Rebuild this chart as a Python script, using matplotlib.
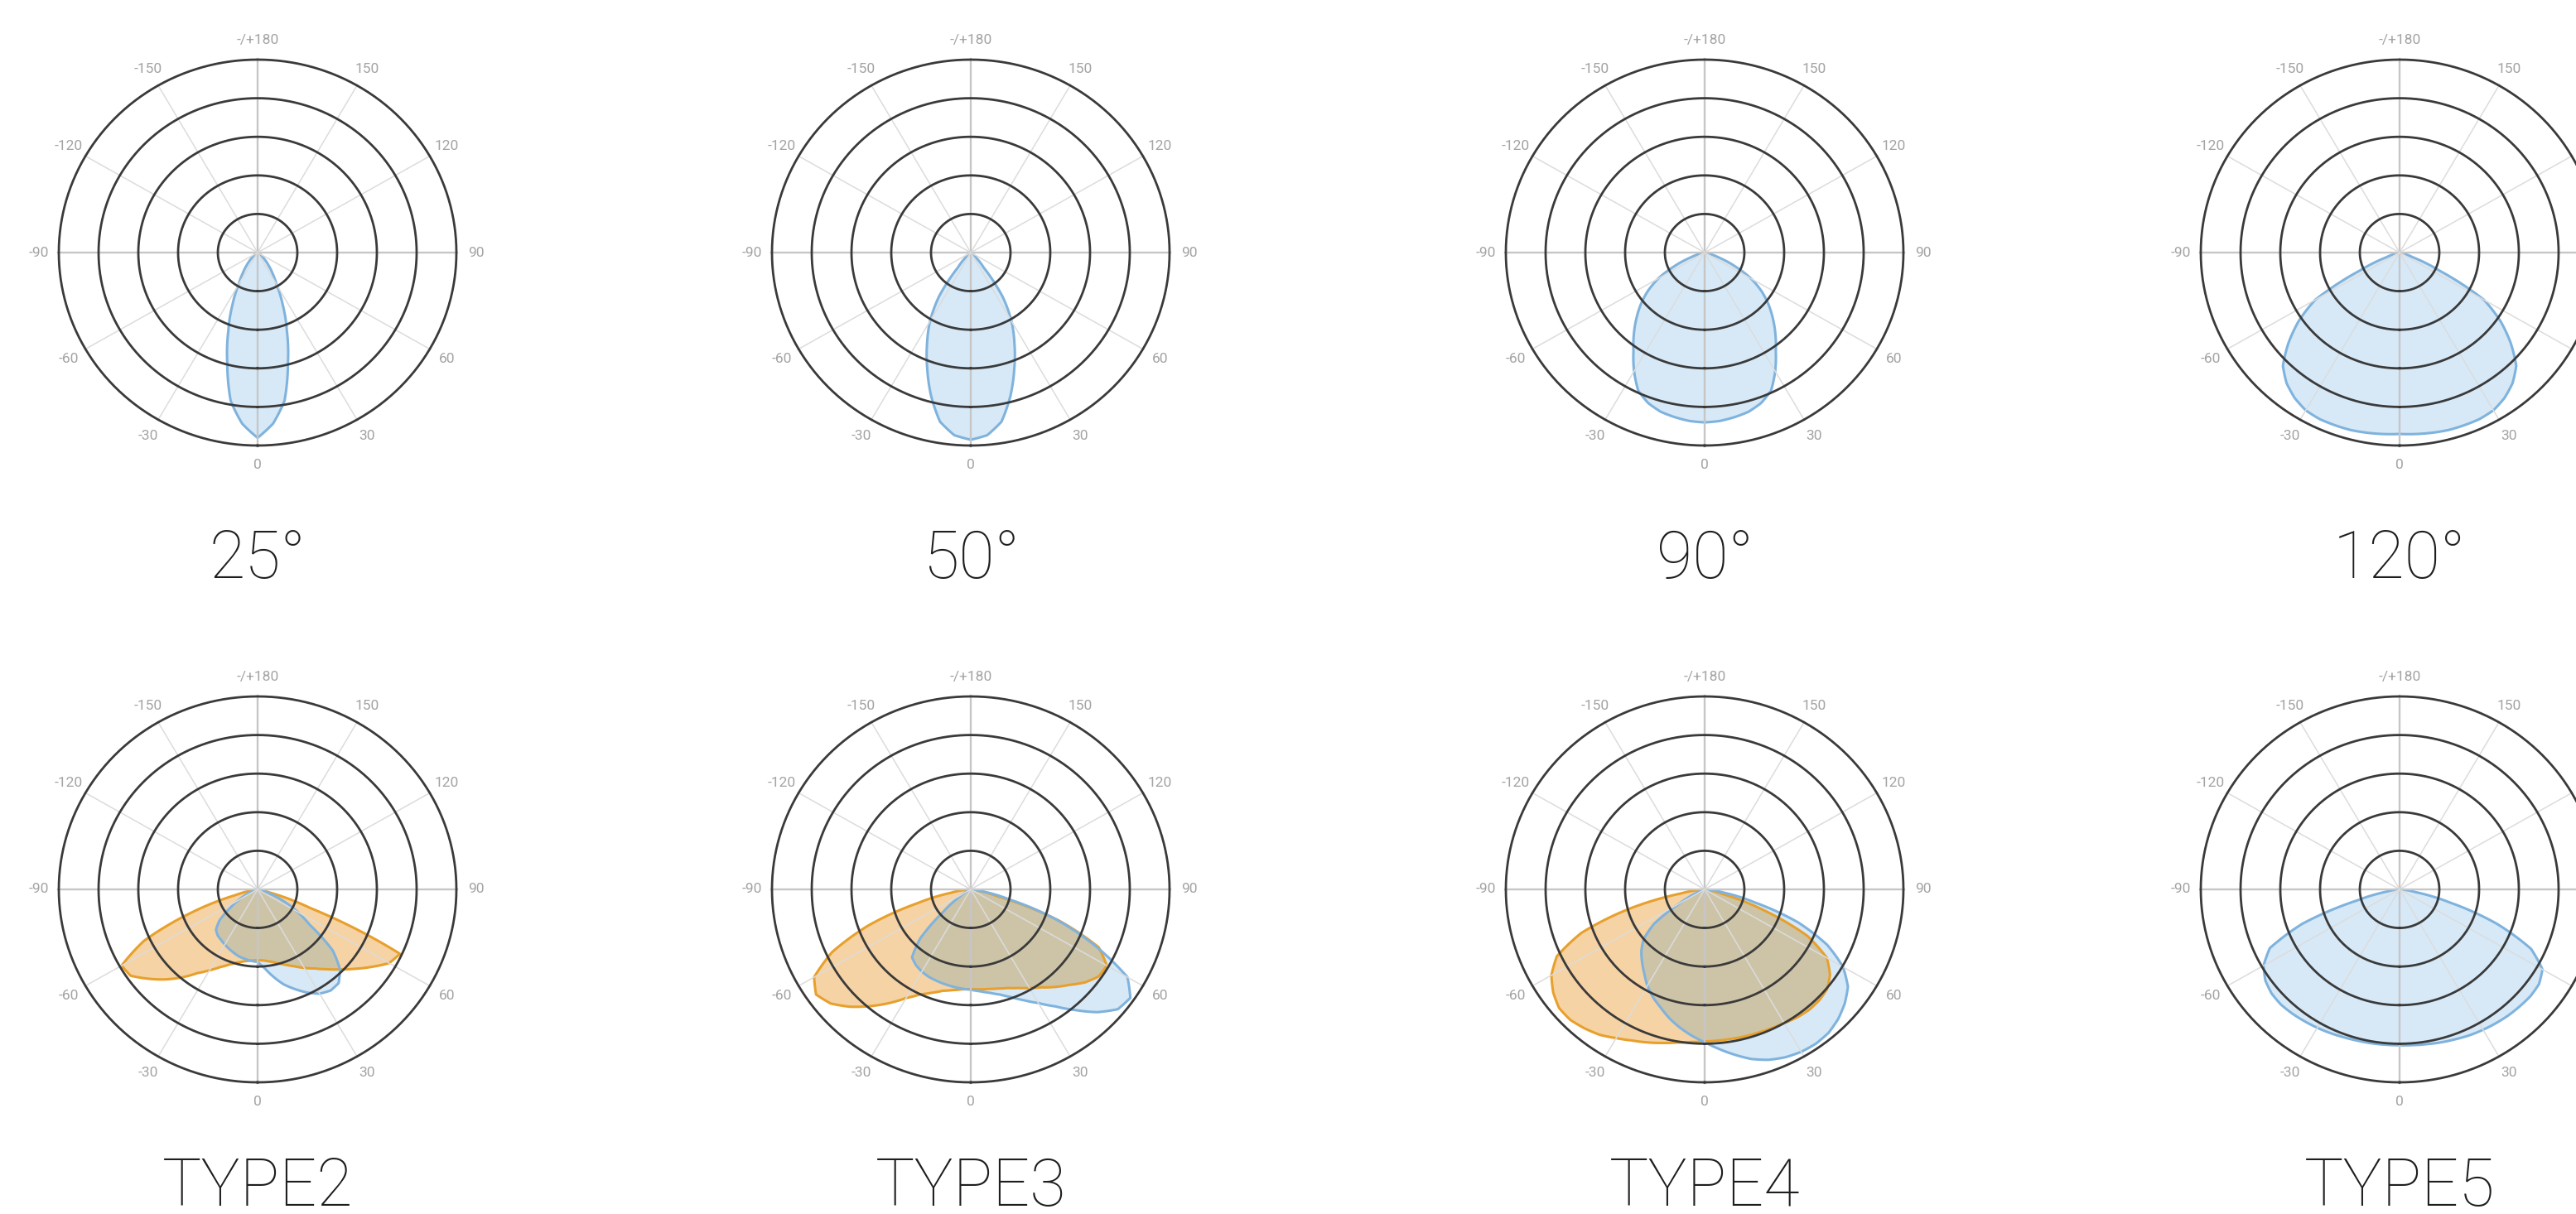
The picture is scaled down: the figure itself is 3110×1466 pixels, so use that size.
import numpy as np
import matplotlib
matplotlib.use('Agg')
from matplotlib import pyplot as plt

# sampling angles in degrees, 0 = straight down, +90 = right
angles = np.arange(-90, 95, 5)

# relative intensity (rings at 1..5)
beam_25 = [0, 0, 0, 0, 0, 0, 0.02, 0.05, 0.12, 0.25, 0.42, 0.65, 0.95, 1.5, 2.15, 2.95, 3.9, 4.45,
           4.8,
           4.45, 3.9, 2.95, 2.15, 1.5, 0.95, 0.65, 0.42, 0.25, 0.12, 0.05, 0.02, 0, 0, 0, 0, 0, 0]
beam_50 = [0, 0, 0, 0, 0, 0, 0, 0.02, 0.07, 0.22, 0.5, 1.4, 2.05, 2.6, 3.2, 3.85, 4.45, 4.75,
           4.85,
           4.75, 4.45, 3.85, 3.2, 2.6, 2.05, 1.4, 0.5, 0.22, 0.07, 0.02, 0, 0, 0, 0, 0, 0, 0]
beam_90 = [0, 0, 0.03, 0.12, 0.4, 0.85, 1.35, 1.75, 2.1, 2.43, 2.77, 3.12, 3.55, 3.95, 4.15, 4.27, 4.33, 4.38,
           4.4,
           4.38, 4.33, 4.27, 4.15, 3.95, 3.55, 3.12, 2.77, 2.43, 2.1, 1.75, 1.35, 0.85, 0.4, 0.12, 0.03, 0, 0]
beam_120 = [0, 0, 0.02, 0.1, 0.35, 1.1, 2.45, 3.1, 3.65, 4.15, 4.42, 4.6, 4.72, 4.76, 4.76, 4.76, 4.74, 4.72,
            4.7,
            4.72, 4.74, 4.76, 4.76, 4.76, 4.72, 4.6, 4.42, 4.15, 3.65, 3.1, 2.45, 1.1, 0.35, 0.1, 0.02, 0, 0]

type2_orange = [0, 0, 0.1, 0.6, 1.8, 3.15, 3.95, 3.9, 3.6, 3.3, 2.98, 2.65, 2.42, 2.22, 2.07, 1.96, 1.89, 1.85,
                1.83,
                1.85, 1.9, 1.98, 2.08, 2.2, 2.35, 2.5, 2.7, 2.93, 3.2, 3.5, 3.82, 3.95, 1.4, 0.3, 0.05, 0, 0]
type2_blue = [0, 0, 0, 0.05, 0.15, 0.3, 0.55, 0.85, 1.25, 1.48, 1.56, 1.6, 1.65, 1.7, 1.75, 1.8, 1.83, 1.86,
              1.88,
              2.05, 2.3, 2.55, 2.75, 2.95, 3.12, 3.2, 3.17, 2.93, 2.47, 1.6, 1.15, 0.72, 0.35, 0.12, 0.03, 0, 0]
type3_orange = [0, 0.15, 0.5, 1.4, 2.75, 3.85, 4.55, 4.75, 4.6, 4.3, 3.95, 3.6, 3.25, 3.0, 2.85, 2.72, 2.65, 2.6,
                2.58,
                2.6, 2.62, 2.66, 2.72, 2.82, 2.95, 3.1, 3.3, 3.5, 3.75, 3.93, 3.95, 3.55, 2.35, 0.7, 0.2, 0.05, 0]
type3_blue = [0, 0, 0, 0, 0, 0.05, 0.15, 0.4, 0.9, 1.8, 2.3, 2.4, 2.46, 2.5, 2.52, 2.54, 2.56, 2.58,
              2.6,
              2.65, 2.72, 2.82, 2.97, 3.17, 3.4, 3.7, 4.08, 4.5, 4.83, 4.9, 4.55, 3.45, 2.3, 1.0, 0.3, 0.05, 0]
type4_orange = [0, 0.1, 0.6, 2.0, 3.3, 4.1, 4.45, 4.65, 4.78, 4.78, 4.7, 4.6, 4.45, 4.32, 4.22, 4.12, 4.03, 3.97,
                3.94,
                3.93, 3.93, 3.94, 3.95, 3.97, 4.0, 4.05, 4.08, 4.07, 4.02, 3.85, 3.55, 2.85, 1.6, 0.5, 0.1, 0, 0]
type4_blue = [0, 0, 0, 0, 0.05, 0.3, 0.7, 1.55, 2.0, 2.25, 2.45, 2.65, 2.88, 3.08, 3.25, 3.45, 3.63, 3.8,
              3.96,
              4.15, 4.35, 4.55, 4.7, 4.8, 4.86, 4.88, 4.85, 4.75, 4.6, 4.4, 4.02, 3.4, 2.5, 1.3, 0.5, 0.1, 0]
type5_blue = [0, 0.1, 0.3, 1.1, 2.6, 3.6, 3.95, 4.12, 4.2, 4.22, 4.2, 4.17, 4.14, 4.11, 4.08, 4.06, 4.05, 4.04,
              4.04,
              4.05, 4.07, 4.1, 4.13, 4.17, 4.2, 4.23, 4.26, 4.28, 4.3, 4.28, 4.15, 3.65, 2.6, 1.3, 0.4, 0.1, 0]

titles = ['25°', '50°', '90°', '120°', 'TYPE2', 'TYPE3', 'TYPE4', 'TYPE5']
orange_curves = [None, None, None, None, type2_orange, type3_orange, type4_orange, None]
blue_curves = [beam_25, beam_50, beam_90, beam_120, type2_blue, type3_blue, type4_blue, type5_blue]

tick_angles = [0, 30, 60, 90, 120, 150, 180, -150, -120, -90, -60, -30]
tick_labels = ['0', '30', '60', '90', '120', '150', '-/+180', '-150', '-120', '-90', '-60', '-30']

BLUE_FILL, BLUE_EDGE = '#d7e9f7', '#7fb3dd'
ORANGE_FILL, ORANGE_EDGE = '#f6d3a4', '#e8a02c'
OVERLAP = '#cdc4a8'

W, H = 3110, 1466
RX, RY = 240, 233
col_x = [311, 1172, 2058, 2897]
row_y = [305, 1074]
title_base = [698, 1456]

fig = plt.figure(figsize=(W / 100, H / 100), dpi=100)
fig.patch.set_facecolor('white')

theta = np.radians(angles)
ring_t = np.linspace(0, 2 * np.pi, 361)


def smooth(artist):
    # let the polar transform draw arcs between samples
    artist.get_path()._interpolation_steps = 16
    return artist


for i, title in enumerate(titles):
    cx = col_x[i % 4]
    cy = row_y[i // 4]
    ax = fig.add_axes([(cx - RX) / W, 1 - (cy + RY) / H, 2 * RX / W, 2 * RY / H], projection='polar')
    ax.set_aspect('auto')
    ax.set_theta_zero_location('S')
    ax.set_theta_direction(1)
    ax.set_ylim(0, 5)
    ax.set_xticks([])
    ax.set_yticks([])
    ax.grid(False)
    ax.spines['polar'].set_visible(False)
    ax.patch.set_alpha(0)

    # spokes
    for a in range(0, 360, 30):
        main = a % 90 == 0
        ax.plot([np.radians(a)] * 2, [0, 5.02], color='#c6c6c6' if main else '#dcdcdc',
                lw=1.7 if main else 1.1, zorder=2, clip_on=False)
    # rings
    for k in range(1, 6):
        ax.plot(ring_t, np.full_like(ring_t, k), color='#3a3a3a', lw=2.0, zorder=3, clip_on=False)

    orange = orange_curves[i]
    blue = blue_curves[i]
    opoly = None
    if orange is not None:
        opoly = smooth(ax.fill(theta, orange, facecolor=ORANGE_FILL, edgecolor='none', zorder=1)[0])
    smooth(ax.fill(theta, blue, facecolor=BLUE_FILL, edgecolor='none', zorder=1.05)[0])
    if opoly is not None:
        ov = smooth(ax.fill(theta, blue, facecolor=OVERLAP, edgecolor='none', zorder=1.1)[0])
        ov.set_clip_path(opoly)
        smooth(ax.plot(np.append(theta, theta[0]), np.append(orange, orange[0]),
                       color=ORANGE_EDGE, lw=2.2, zorder=1.3)[0])
    smooth(ax.plot(np.append(theta, theta[0]), np.append(blue, blue[0]),
                   color=BLUE_EDGE, lw=2.2, zorder=1.4)[0])

    for a, lab in zip(tick_angles, tick_labels):
        ax.text(np.radians(a), 5.5, lab, ha='center', va='center', fontsize=12.5,
                color='#a3a3a3', family=['Roboto', 'DejaVu Sans'])

    fig.text(cx / W, 1 - title_base[i // 4] / H, title, ha='center', va='baseline', fontsize=57,
             color='#1e1e1e', family=['Roboto', 'DejaVu Sans'], fontweight='light')

fig.savefig('out.png', dpi=100, facecolor='white')
